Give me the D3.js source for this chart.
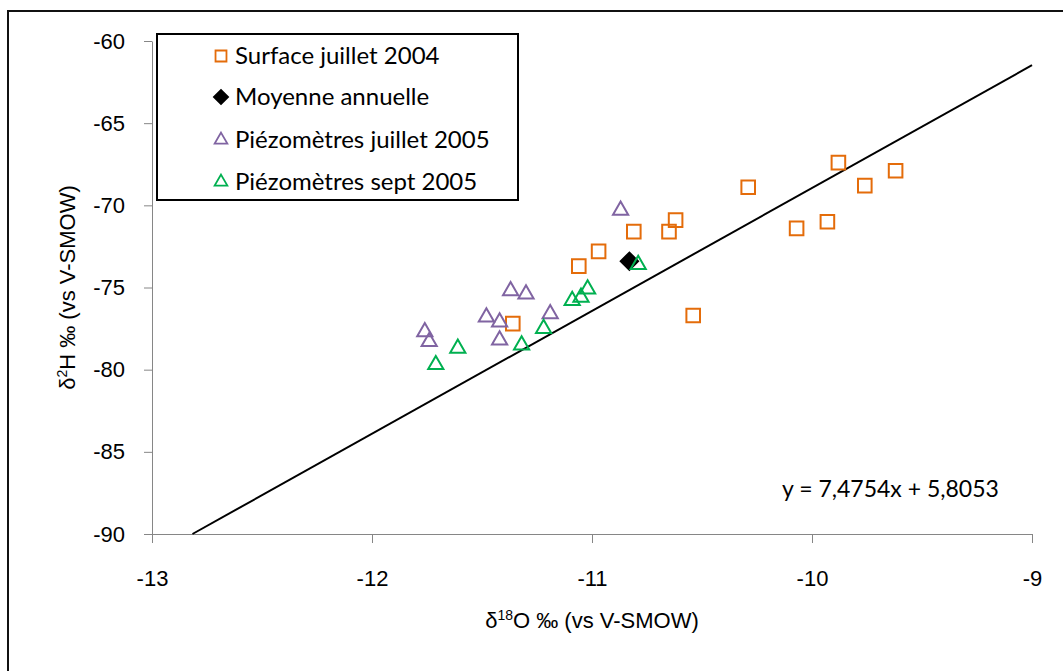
<!DOCTYPE html>
<html lang="fr">
<head>
<meta charset="UTF-8">
<title>δ2H vs δ18O</title>
<script src="https://d3js.org/d3.v7.min.js"></script>
<style>
  body { margin: 0; background: #fff; }
  svg text { fill: #000; }
</style>
</head>
<body>
<svg id="chart" width="1063" height="671"></svg>
<script>
// Data (δ18O, δ2H)
var surfaceX = [-11.36, -11.06, -10.97, -10.81, -10.65, -10.62, -10.54, -10.29, -10.07, -9.93, -9.88, -9.76, -9.62];
var surfaceY = [-77.2, -73.7, -72.8, -71.6, -71.6, -70.9, -76.7, -68.9, -71.4, -71.0, -67.4, -68.8, -67.9];

var moyenneX = [-10.83];
var moyenneY = [-73.4];

var piezoJulX = [-11.76, -11.74, -11.48, -11.42, -11.42, -11.37, -11.30, -11.19, -10.87];
var piezoJulY = [-77.7, -78.3, -76.8, -77.1, -78.2, -75.2, -75.4, -76.6, -70.3];

var piezoSepX = [-11.71, -11.61, -11.32, -11.22, -11.09, -11.05, -11.02, -10.79];
var piezoSepY = [-79.7, -78.7, -78.5, -77.5, -75.8, -75.6, -75.1, -73.6];

var xTicks = [-13, -12, -11, -10, -9];
var yTicks = [-90, -85, -80, -75, -70, -65, -60];

var slope = 7.4754, intercept = 5.8053;
var equationLabel = "y = 7,4754x + 5,8053";

var legendLabels = ["Surface juillet 2004", "Moyenne annuelle", "Piézomètres juillet 2005", "Piézomètres sept 2005"];

var svg = d3.select("#chart");
var arial = "Liberation Sans, Arial, sans-serif";
var calibri = "Lato, sans-serif";

// outer chart frame (runs past the picture edge)
svg.append("rect")
    .attr("x", 8).attr("y", 11)
    .attr("width", 1100).attr("height", 700)
    .attr("fill", "none").attr("stroke", "#111").attr("stroke-width", 2);

var x = d3.scaleLinear().domain([-13, -9]).range([152, 1032]);
var y = d3.scaleLinear().domain([-90, -60]).range([534, 41]);

var axisColor = "#868686";

// x axis
var gx = svg.append("g")
    .attr("transform", "translate(0," + y(-90) + ")")
    .call(d3.axisBottom(x).tickValues(xTicks).tickSize(9).tickSizeOuter(0)
        .tickPadding(27).tickFormat(function(d) { return String(d); }));
gx.select(".domain").attr("stroke", axisColor);
gx.selectAll(".tick line").attr("stroke", axisColor);
gx.selectAll("text").attr("font-family", arial).attr("font-size", 22);

// y axis
var gy = svg.append("g")
    .attr("transform", "translate(" + x(-13) + ",0)")
    .call(d3.axisLeft(y).tickValues(yTicks).tickSize(8).tickSizeOuter(0)
        .tickPadding(19).tickFormat(function(d) { return String(d); }));
gy.select(".domain").attr("stroke", axisColor);
gy.selectAll(".tick line").attr("stroke", axisColor);
gy.selectAll("text").attr("font-family", arial).attr("font-size", 22);

// axis titles
var xt = svg.append("text")
    .attr("x", (x(-13) + x(-9)) / 2).attr("y", 628)
    .attr("text-anchor", "middle")
    .attr("font-family", arial).attr("font-size", 22);
xt.append("tspan").text("δ");
xt.append("tspan").attr("font-size", 14).attr("dy", -8).text("18");
xt.append("tspan").attr("dy", 8).text("O ‰ (vs V-SMOW)");

var yt = svg.append("text")
    .attr("transform", "translate(75," + ((y(-60) + y(-90)) / 2) + ") rotate(-90)")
    .attr("text-anchor", "middle")
    .attr("font-family", arial).attr("font-size", 22);
yt.append("tspan").text("δ");
yt.append("tspan").attr("font-size", 14).attr("dy", -8).text("2");
yt.append("tspan").attr("dy", 8).text("H ‰ (vs V-SMOW)");

// regression line, clipped to the plot range
var xStart = (y.domain()[0] - intercept) / slope;
var xEnd = x.domain()[1];
svg.append("line")
    .attr("x1", x(xStart)).attr("y1", y(slope * xStart + intercept))
    .attr("x2", x(xEnd)).attr("y2", y(slope * xEnd + intercept))
    .attr("stroke", "#000").attr("stroke-width", 2);

svg.append("text")
    .attr("x", 782).attr("y", 497)
    .attr("font-family", calibri).attr("font-size", 23)
    .text(equationLabel);

// markers
var orange = "#E46C0A", purple = "#8064A2", green = "#00B050";
var sq = d3.symbol().type(d3.symbolSquare).size(185);
var tri = d3.symbol().type(d3.symbolTriangle).size(100);
var dia = d3.symbol().type(d3.symbolSquare).size(150);

function zip(xs, ys) { return xs.map(function(v, i) { return [v, ys[i]]; }); }

function drawSeries(pts, sym, fill, stroke, rot) {
    svg.append("g").selectAll("path")
        .data(pts).enter().append("path")
        .attr("d", sym)
        .attr("transform", function(d) {
            return "translate(" + x(d[0]) + "," + y(d[1]) + ")" + (rot ? " rotate(45)" : "");
        })
        .attr("fill", fill).attr("stroke", stroke).attr("stroke-width", 2);
}

drawSeries(zip(surfaceX, surfaceY), sq, "none", orange);
drawSeries(zip(piezoJulX, piezoJulY), tri, "none", purple);
drawSeries(zip(moyenneX, moyenneY), dia, "#000", "#000", true);
drawSeries(zip(piezoSepX, piezoSepY), tri, "none", green);

// legend
var legend = svg.append("g");
legend.append("rect")
    .attr("x", 157).attr("y", 34).attr("width", 361).attr("height", 166)
    .attr("fill", "#fff").attr("stroke", "#000").attr("stroke-width", 2);

var legendSyms = [
    { sym: d3.symbol().type(d3.symbolSquare).size(120), fill: "none", stroke: orange, rot: 0 },
    { sym: d3.symbol().type(d3.symbolSquare).size(100), fill: "#000", stroke: "#000", rot: 45 },
    { sym: d3.symbol().type(d3.symbolTriangle).size(70), fill: "none", stroke: purple, rot: 0 },
    { sym: d3.symbol().type(d3.symbolTriangle).size(70), fill: "none", stroke: green, rot: 0 }
];
var rowY = [56, 97, 140, 182];

var entry = legend.selectAll("g.entry")
    .data(legendLabels).enter().append("g")
    .attr("class", "entry")
    .attr("transform", function(d, i) { return "translate(0," + rowY[i] + ")"; });

entry.append("path")
    .attr("transform", function(d, i) { return "translate(221,0) rotate(" + legendSyms[i].rot + ")"; })
    .attr("d", function(d, i) { return legendSyms[i].sym(); })
    .attr("fill", function(d, i) { return legendSyms[i].fill; })
    .attr("stroke", function(d, i) { return legendSyms[i].stroke; })
    .attr("stroke-width", 1.8);

entry.append("text")
    .attr("x", 235).attr("y", 8)
    .attr("font-family", calibri).attr("font-size", 24)
    .text(function(d) { return d; });
</script>
</body>
</html>
